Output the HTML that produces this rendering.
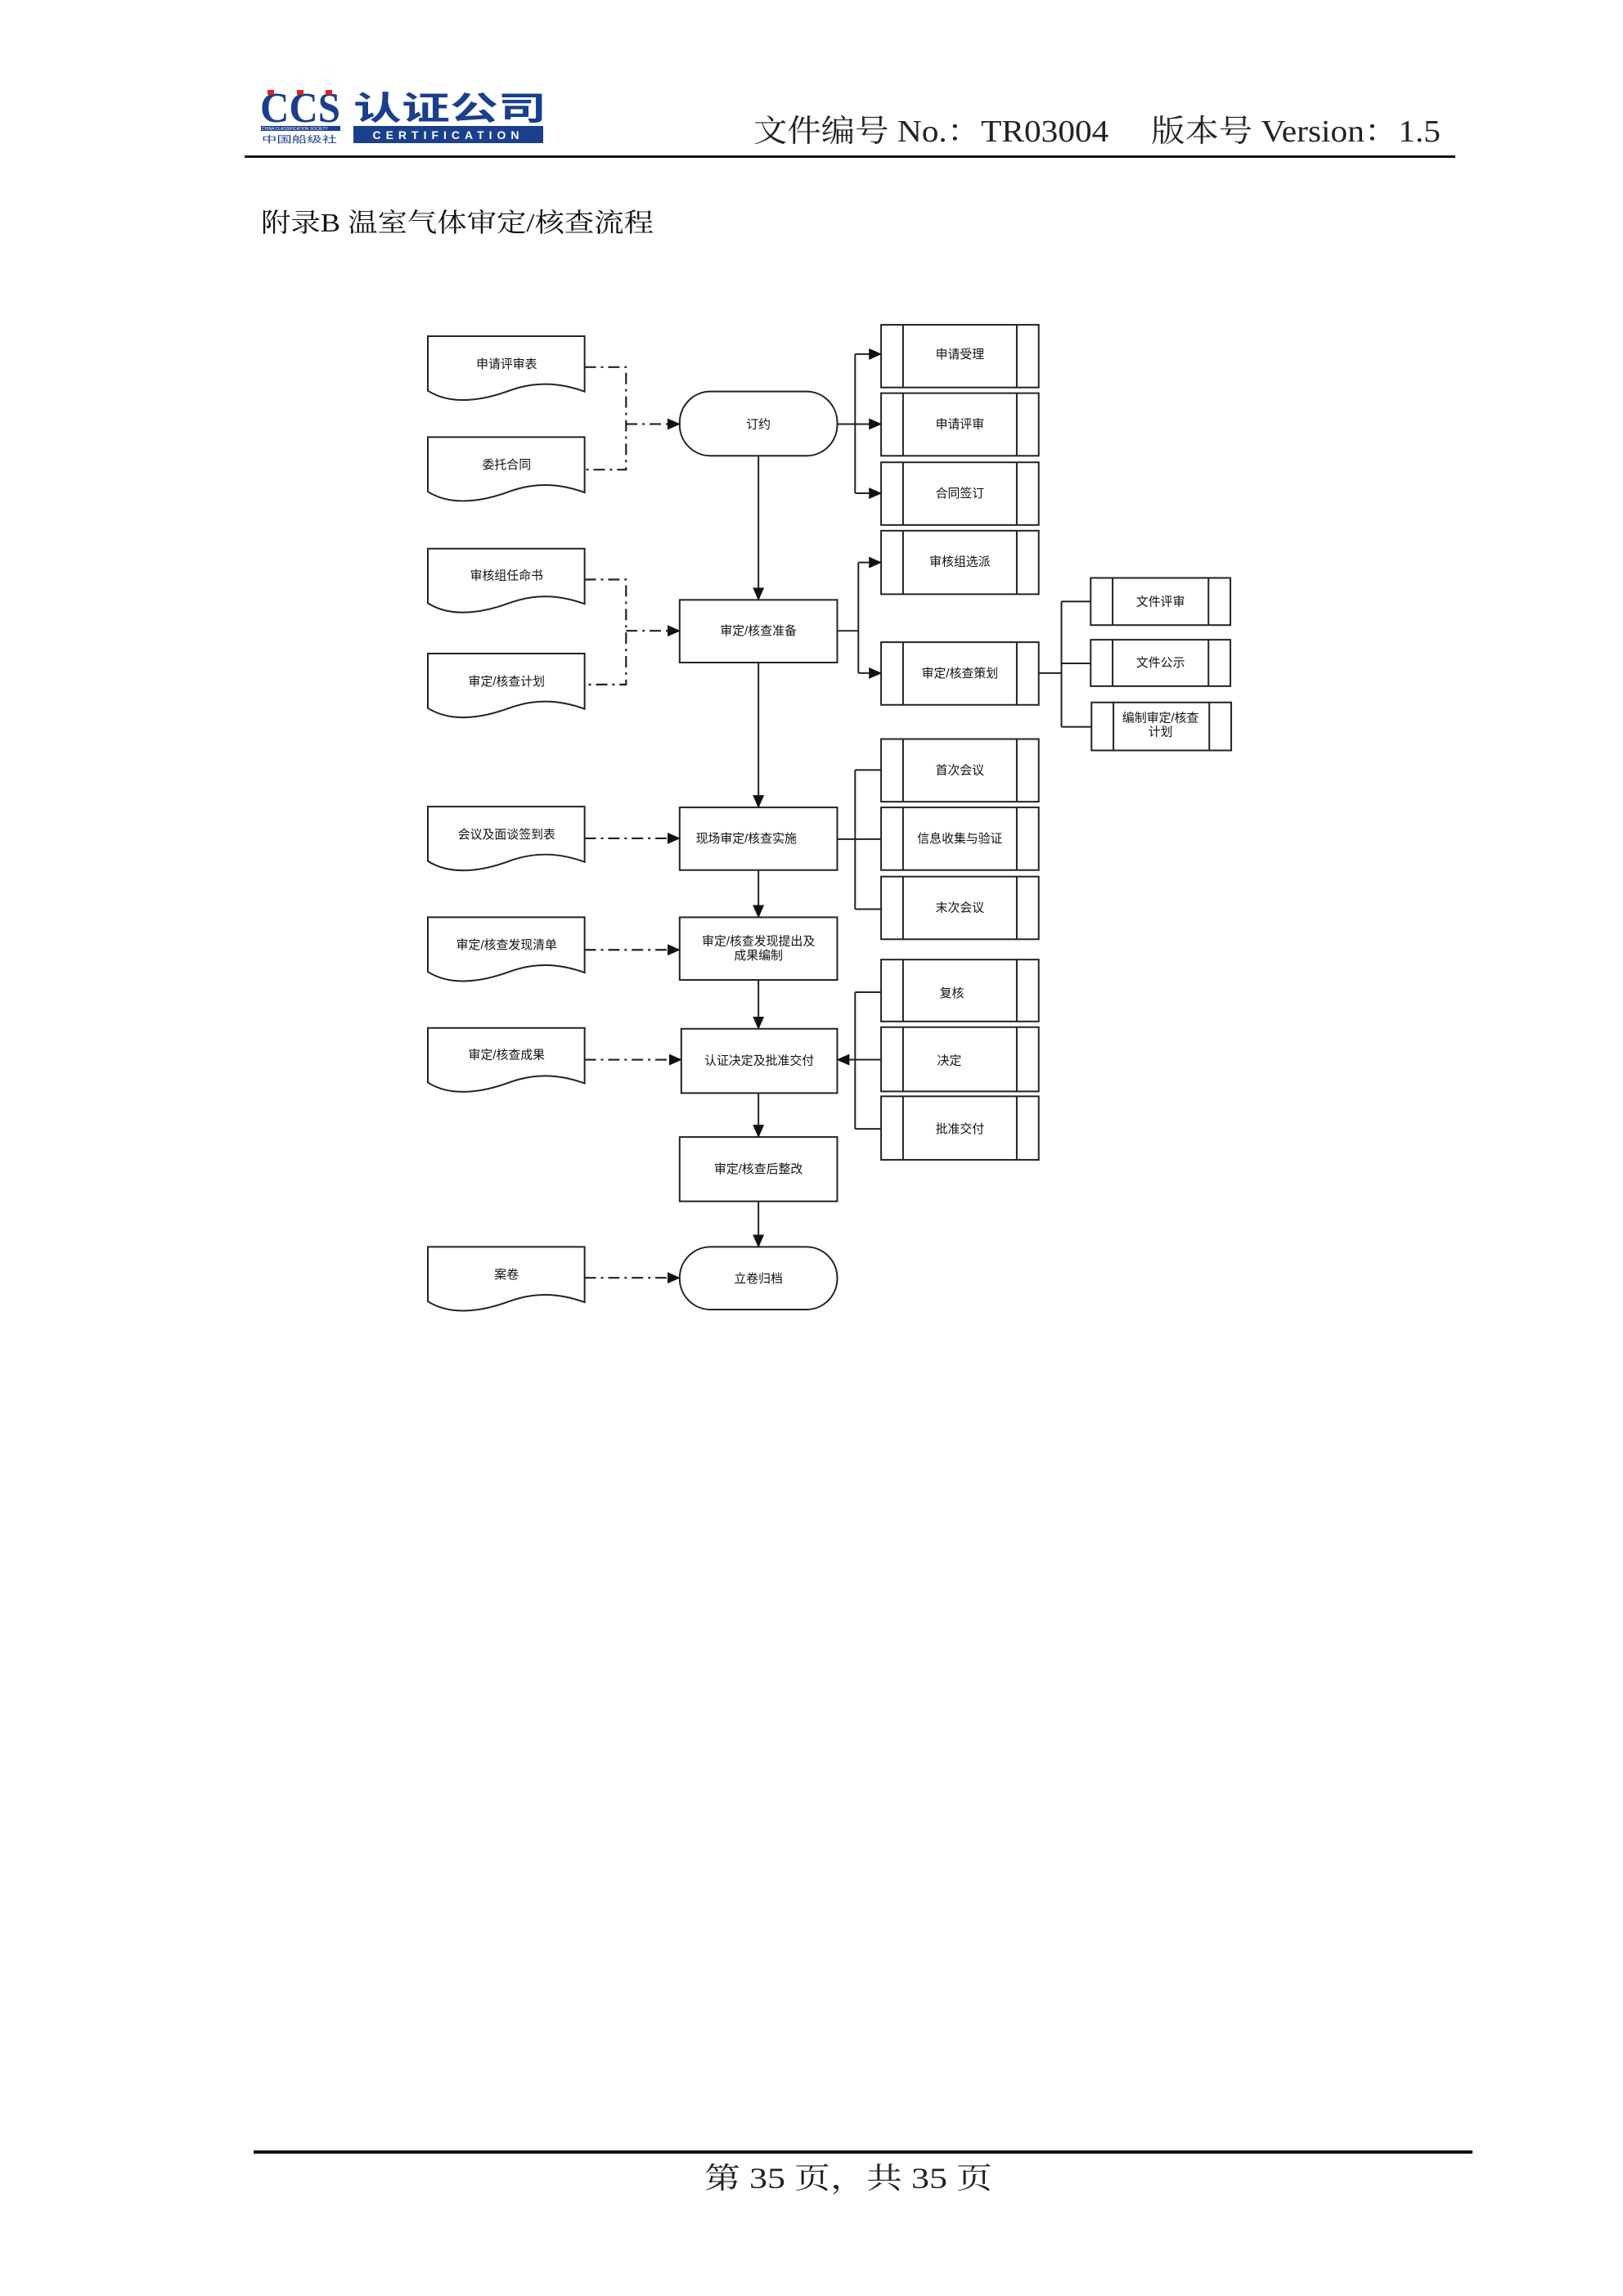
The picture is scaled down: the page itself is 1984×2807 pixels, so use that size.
<!DOCTYPE html>
<html><head><meta charset="utf-8"><style>
html,body{margin:0;padding:0;background:#fff;}
svg{display:block;}
text{font-family:"Liberation Sans","Noto Sans CJK SC",sans-serif;}
.s{font-family:"Liberation Serif","Noto Serif CJK SC",serif;}
.l{font-size:15px;fill:#111;text-anchor:middle;}
.b{fill:#fff;stroke:#222;stroke-width:2;}
.c{fill:none;stroke:#222;stroke-width:2;}
.d{fill:none;stroke:#222;stroke-width:2.2;stroke-dasharray:14,6,3,6;}
</style></head><body>
<svg width="1984" height="2807" viewBox="0 0 1984 2807" xmlns="http://www.w3.org/2000/svg">
<defs>
<marker id="a" markerWidth="16" markerHeight="16" refX="15" refY="7" orient="auto" markerUnits="userSpaceOnUse"><path d="M0,0 L16,7 L0,14 z" fill="#111"/></marker>
<path id="doc" d="M0,0 H193 V68 C160,56 130,56 100,67 C70,78 30,86 0,67 Z"/>
</defs>
<text x="318" y="149" font-size="52" font-weight="bold" fill="#1a3f8c" textLength="98" lengthAdjust="spacingAndGlyphs" class="s">CCS</text>
<rect x="327" y="110" width="8" height="6" fill="#d22"/><rect x="363" y="110" width="8" height="6" fill="#d22"/><rect x="398" y="110" width="8" height="6" fill="#d22"/>
<text x="432" y="146" font-size="40" font-weight="bold" fill="#1a3f8c" textLength="236" lengthAdjust="spacingAndGlyphs">认证公司</text>
<rect x="432" y="154" width="232" height="21" fill="#1a3f8c"/>
<text x="548" y="170" font-size="14" fill="#fff" text-anchor="middle" letter-spacing="6" font-weight="bold">CERTIFICATION</text>
<rect x="319" y="154" width="97" height="6" fill="#1a3f8c"/>
<text x="320" y="159" font-size="5" fill="#fff">CHINA CLASSIFICATION SOCIETY</text>
<text x="320" y="174" font-size="11" fill="#1a3f8c" textLength="92" lengthAdjust="spacingAndGlyphs">中国船级社</text>
<text x="921" y="173" font-size="38" class="s" fill="#222" textLength="840" lengthAdjust="spacingAndGlyphs">文件编号 No.：TR03004　 版本号 Version：1.5</text>
<rect x="299" y="190" width="1480" height="3" fill="#111"/>
<text x="319" y="283" font-size="32" class="s" fill="#111" textLength="480" lengthAdjust="spacingAndGlyphs">附录B 温室气体审定/核查流程</text>
<g transform="translate(523,411) scale(0.993,0.995) translate(-523,-412)">
<g class="b">
<use href="#doc" x="523" y="412"/><use href="#doc" x="523" y="536"/>
<use href="#doc" x="523" y="673"/><use href="#doc" x="523" y="802"/>
<use href="#doc" x="523" y="990"/><use href="#doc" x="523" y="1126"/>
<use href="#doc" x="523" y="1262"/><use href="#doc" x="523" y="1531"/>
</g>
<g class="l">
<text x="620" y="451">申请评审表</text><text x="620" y="575">委托合同</text>
<text x="620" y="711">审核组任命书</text><text x="620" y="841">审定/核查计划</text>
<text x="620" y="1029">会议及面谈签到表</text><text x="620" y="1165">审定/核查发现清单</text>
<text x="620" y="1300">审定/核查成果</text><text x="620" y="1570">案卷</text>
</g>
<g class="b">
<rect x="833" y="480" width="194" height="79" rx="38"/>
<rect x="833" y="736" width="194" height="77"/>
<rect x="833" y="991" width="194" height="77"/>
<rect x="833" y="1126" width="194" height="77"/>
<rect x="835" y="1263" width="192" height="79"/>
<rect x="833" y="1396" width="194" height="79"/>
<rect x="833" y="1531" width="194" height="77" rx="38"/>
</g>
<g class="l">
<text x="930" y="525">订约</text><text x="930" y="779">审定/核查准备</text>
<text x="915" y="1034">现场审定/核查实施</text>
<text x="930" y="1160">审定/核查发现提出及</text><text x="930" y="1178">成果编制</text>
<text x="931" y="1307">认证决定及批准交付</text><text x="930" y="1440">审定/核查后整改</text>
<text x="930" y="1575">立卷归档</text>
</g>
<g class="b">
<rect x="1081" y="398" width="194" height="77"/><rect x="1081" y="482" width="194" height="77"/>
<rect x="1081" y="567" width="194" height="77"/><rect x="1081" y="651" width="194" height="78"/>
<rect x="1081" y="788" width="194" height="77"/><rect x="1081" y="907" width="194" height="77"/>
<rect x="1081" y="991" width="194" height="77"/><rect x="1081" y="1076" width="194" height="77"/>
<rect x="1081" y="1178" width="194" height="76"/><rect x="1081" y="1261" width="194" height="79"/>
<rect x="1081" y="1346" width="194" height="78"/>
<rect x="1339" y="709" width="172" height="58"/><rect x="1339" y="785" width="172" height="57"/>
<rect x="1340" y="862" width="172" height="59"/>
</g>
<path class="c" d="M1108,398V475M1248,398V475M1108,482V559M1248,482V559M1108,567V644M1248,567V644M1108,651V729M1248,651V729M1108,788V865M1248,788V865M1108,907V984M1248,907V984M1108,991V1068M1248,991V1068M1108,1076V1153M1248,1076V1153M1108,1178V1254M1248,1178V1254M1108,1261V1340M1248,1261V1340M1108,1346V1424M1248,1346V1424M1366,709V767M1484,709V767M1366,785V842M1484,785V842M1367,862V921M1485,862V921"/>
<g class="l">
<text x="1178" y="439">申请受理</text><text x="1178" y="525">申请评审</text>
<text x="1178" y="610">合同签订</text><text x="1178" y="694">审核组选派</text>
<text x="1178" y="831">审定/核查策划</text><text x="1178" y="950">首次会议</text>
<text x="1178" y="1034">信息收集与验证</text><text x="1178" y="1119">末次会议</text>
<text x="1168" y="1224">复核</text><text x="1165" y="1307">决定</text>
<text x="1178" y="1391">批准交付</text>
<text x="1425" y="743">文件评审</text><text x="1425" y="818">文件公示</text>
<text x="1425" y="886">编制审定/核查</text><text x="1425" y="903">计划</text>
</g>
<path class="d" d="M716,450H767V576H716"/>
<path class="d" d="M767,520H833" marker-end="url(#a)"/>
<path class="d" d="M716,711H767V840H716"/>
<path class="d" d="M767,774H833" marker-end="url(#a)"/>
<path class="d" d="M716,1029H833" marker-end="url(#a)"/>
<path class="d" d="M716,1166H833" marker-end="url(#a)"/>
<path class="d" d="M716,1301H835" marker-end="url(#a)"/>
<path class="d" d="M716,1569H833" marker-end="url(#a)"/>
<g class="c">
<path d="M930,559V736" marker-end="url(#a)"/>
<path d="M930,813V991" marker-end="url(#a)"/>
<path d="M930,1068V1126" marker-end="url(#a)"/>
<path d="M930,1203V1263" marker-end="url(#a)"/>
<path d="M930,1342V1396" marker-end="url(#a)"/>
<path d="M930,1475V1531" marker-end="url(#a)"/>
<path d="M1027,520H1049M1049,434V605"/>
<path d="M1049,434H1081" marker-end="url(#a)"/>
<path d="M1049,520H1081" marker-end="url(#a)"/>
<path d="M1049,605H1081" marker-end="url(#a)"/>
<path d="M1027,774H1053M1053,690V826"/>
<path d="M1053,690H1081" marker-end="url(#a)"/>
<path d="M1053,826H1081" marker-end="url(#a)"/>
<path d="M1275,826H1303M1303,738V892M1303,738H1339M1303,814H1339M1303,892H1340"/>
<path d="M1027,1030H1081M1049,945V1116M1049,945H1081M1049,1116H1081"/>
<path d="M1049,1218V1386M1049,1218H1081M1049,1386H1081"/>
<path d="M1081,1301H1027" marker-end="url(#a)"/>
</g>
</g>
<rect x="310" y="2629" width="1490" height="4" fill="#111"/>
<text x="1037" y="2675" font-size="36" class="s" fill="#222" text-anchor="middle" textLength="352" lengthAdjust="spacingAndGlyphs">第 35 页，共 35 页</text>
</svg>
</body></html>
